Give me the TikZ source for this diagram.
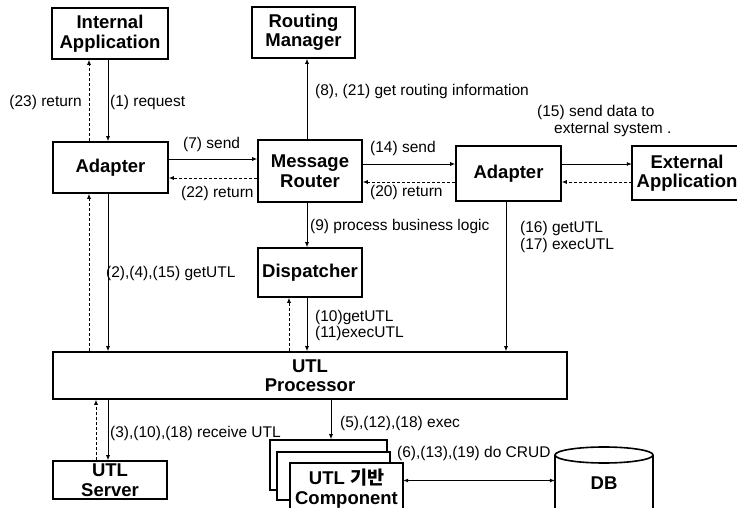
\documentclass[tikz,border=0pt]{standalone}
\usepackage{fontspec}
\setmainfont{Liberation Sans}
\newfontfamily\krfont{Noto Sans CJK KR}
\usetikzlibrary{arrows.meta}
\newcommand\bxfont{\bfseries\fontsize{18.5}{19.5}\selectfont}
\newcommand\lbfont{\fontsize{15.5}{17}\selectfont}
\begin{document}
\begin{tikzpicture}[x=1pt,y=-1pt,
  bline/.style={line width=1.6pt},
  box/.style={draw, bline, fill=white, inner sep=0pt, align=center, font=\bxfont},
  plain/.style={inner sep=0pt, align=center, font=\bxfont},
  lbl/.style={inner sep=0pt, font=\lbfont, align=left},
  arr/.style={line width=0.8pt, -{Latex[length=5pt,width=4pt]}},
  ret/.style={arr, dash pattern=on 3pt off 2pt},
  dbl/.style={line width=0.8pt, {Latex[length=5pt,width=4pt]}-{Latex[length=5pt,width=4pt]}}]
\useasboundingbox[fill=white] (0,0) rectangle (737,508);

% boxes
\node[box, minimum width=116pt, minimum height=51pt] (ia) at (110,33.5) {Internal\\Application};
\node[box, minimum width=103pt, minimum height=51pt] (rm) at (303.5,32.5) {Routing\\Manager};
\node[box, minimum width=115pt, minimum height=51pt] (adL) at (110.5,167.5) {Adapter};
\node[box, minimum width=104pt, minimum height=62pt] (mr) at (310,171) {Message\\Router};
\node[box, minimum width=105pt, minimum height=55pt] (adR) at (508.5,173.5) {Adapter};
\node[plain, minimum width=110pt, minimum height=54pt] (ext) at (687,173) {External\\Application};
\draw[bline] ([xshift=106pt]ext.north west) -- (ext.north west) -- (ext.south west) -- ([xshift=106pt]ext.south west);
\node[box, minimum width=104pt, minimum height=49pt] (dis) at (310,272.5) {Dispatcher};
\node[box, minimum width=514pt, minimum height=47pt] (up) at (310,375.5) {UTL\\Processor};
\node[box, minimum width=114pt, minimum height=38pt] (srv) at (110,480) {UTL\\Server};

% component stack
\node[box, minimum width=117pt, minimum height=50pt] (c1) at (328.5,465) {};
\node[box, minimum width=113pt, minimum height=48pt] (c2) at (333.5,476) {};
\fill[white] (290,463) rectangle (403,508);
\draw[bline] (290,509) -- (290,463) -- (403,463) -- (403,509);
\node[plain, minimum width=113pt, minimum height=45pt] (comp) at (346.5,488.5) {UTL {\krfont 기반}\\Component};

% DB
\node[plain, minimum width=98pt, minimum height=40pt] (db) at (604,483) {DB};
\draw[bline] ([yshift=28pt]db.west) -- ([yshift=-26pt]db.west);
\draw[bline] ([yshift=28pt]db.east) -- ([yshift=-26pt]db.east);
\draw[bline] ([yshift=28pt]db.center) ellipse [x radius=49pt, y radius=8pt];

% connectors
\coordinate (c1a) at ([xshift=-2pt]ia.south);
\draw[arr] (c1a) -- (c1a |- adL.north);
\coordinate (c23) at ([xshift=-21.5pt]adL.north);
\draw[ret] (c23) -- (c23 |- ia.south);
\coordinate (c7) at ([yshift=8.5pt]adL.east);
\draw[arr] (c7) -- (c7 -| mr.west);
\coordinate (c22) at ([yshift=-7pt]mr.west);
\draw[ret] (c22) -- (c22 -| adL.east);
\coordinate (c8) at ([xshift=-3pt]mr.north);
\draw[arr] (c8) -- (c8 |- rm.south);
\coordinate (c14) at ([yshift=7pt]mr.east);
\draw[arr] (c14) -- (c14 -| adR.west);
\coordinate (c20) at ([yshift=-8.5pt]adR.west);
\draw[ret] (c20) -- (c20 -| mr.east);
\coordinate (c15) at ([yshift=9.5pt]adR.east);
\draw[arr] (c15) -- (c15 -| ext.west);
\coordinate (cx) at ([yshift=-9pt]ext.west);
\draw[ret] (cx) -- (cx -| adR.east);
\coordinate (c9) at ([xshift=-3pt]mr.south);
\draw[arr] (c9) -- (c9 |- dis.north);
\coordinate (c16) at ([xshift=-2.5pt]adR.south);
\draw[arr] (c16) -- (c16 |- up.north);
\coordinate (c10) at ([xshift=-3pt]dis.south);
\draw[arr] (c10) -- (c10 |- up.north);
\coordinate (c10r) at ([xshift=-21pt]up.north);
\draw[ret] (c10r) -- (c10r |- dis.south);
\coordinate (c2) at ([xshift=-2.5pt]adL.south);
\draw[arr] (c2) -- (c2 |- up.north);
\coordinate (c2r) at ([xshift=-221pt]up.north);
\draw[ret] (c2r) -- (c2r |- adL.south);
\coordinate (c3) at ([xshift=-202pt]up.south);
\draw[arr] (c3) -- (c3 |- srv.north);
\coordinate (c3r) at ([xshift=-14pt]srv.north);
\draw[ret] (c3r) -- (c3r |- up.south);
\coordinate (c5) at ([xshift=21pt]up.south);
\draw[arr] (c5) -- (c5 |- c1.north);
\coordinate (cc) at ([yshift=8pt]comp.east);
\draw[dbl] (cc) -- (cc -| db.west);

% labels
\node[lbl, anchor=east] (l23) at (82,102) {(23) return};
\node[lbl, anchor=west] (l1) at (110,102) {(1) request};
\node[lbl, anchor=west] (l7) at (183,144) {(7) send};
\node[lbl, anchor=west] (l22) at (181,193) {(22) return};
\node[lbl, anchor=west] (l8) at (315,91) {(8), (21) get routing information};
\node[lbl, anchor=west] (l15) at (537,121) {(15) send data to\\\hspace*{17pt}external system .};
\node[lbl, anchor=west] (l14) at (370,148) {(14) send};
\node[lbl, anchor=west] (l20) at (370,192) {(20) return};
\node[lbl, anchor=west] (l9) at (310,226) {(9) process business logic};
\node[lbl, anchor=west] (l16) at (520,236.5) {(16) getUTL\\(17) execUTL};
\node[lbl, anchor=west] (l2) at (106,273) {(2),(4),(15) getUTL};
\node[lbl, anchor=west] (l10) at (315,325) {(10)getUTL\\[-1pt](11)execUTL};
\node[lbl, anchor=west] (l3) at (110,433) {(3),(10),(18) receive UTL};
\node[lbl, anchor=west] (l5) at (340,423) {(5),(12),(18) exec};
\node[lbl, anchor=west] (l6) at (397,453) {(6),(13),(19) do CRUD};
\end{tikzpicture}
\end{document}
